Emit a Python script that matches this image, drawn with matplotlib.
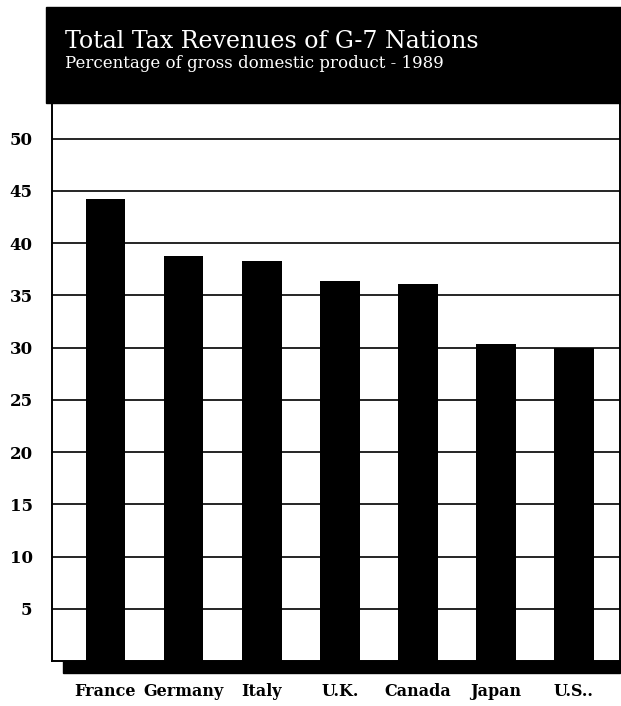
import matplotlib.pyplot as plt
from matplotlib.patches import Rectangle

# Total tax revenues, % of GDP, 1989
countries = ["France", "Germany", "Italy", "U.K.", "Canada", "Japan", "U.S.."]
revenue = [44.2, 38.8, 38.3, 36.4, 36.1, 30.3, 30.0]
yticks = [5, 10, 15, 20, 25, 30, 35, 40, 45, 50]

title = "Total Tax Revenues of G-7 Nations"
subtitle = "Percentage of gross domestic product - 1989"

W, H = 621, 706
fig = plt.figure(figsize=(W / 100, H / 100), dpi=100)
fig.patch.set_facecolor("white")

# plot area
ax = fig.add_axes([52 / W, 1 - 661 / H, (620 - 52) / W, (661 - 102) / H])
bar_w = 0.51
x = list(range(len(countries)))
ax.bar(x, revenue, width=bar_w, color="black", zorder=3)
ax.set_xlim(-0.685, 6.59)
ax.set_ylim(0, 53.5)

for y in yticks:
    ax.axhline(y, color="black", lw=1.2, zorder=1)

ax.set_yticks(yticks)
ax.set_yticklabels([str(v) for v in yticks], family="DejaVu Serif",
                   fontsize=12, fontweight="semibold")
ax.tick_params(axis="y", length=0, pad=14)
ax.set_xticks([])
for s in ["left", "right", "bottom", "top"]:
    ax.spines[s].set_color("black")
    ax.spines[s].set_linewidth(1.4)

# heavy base strip under the bars
ax.add_patch(Rectangle((0.02, -0.021), 0.98, 0.021, transform=ax.transAxes,
                       color="black", clip_on=False, zorder=4))

# country labels
for xi, name in zip(x, countries):
    ax.text(xi, -0.04, name, transform=ax.get_xaxis_transform(),
            ha="center", va="top", family="DejaVu Serif", fontweight="bold",
            fontsize=11.5)

# black header band
fig.patches.append(Rectangle((46 / W, 1 - 103 / H), 1 - 46 / W, 96 / H,
                             transform=fig.transFigure, color="black", zorder=0))
fig.text(65 / W, 1 - 48 / H, title, color="white", family="DejaVu Serif",
         fontsize=17.1, va="baseline", ha="left")
fig.text(65 / W, 1 - 68 / H, subtitle, color="white", family="DejaVu Serif",
         fontsize=12, va="baseline", ha="left")

plt.savefig("out.png", dpi=100)
plt.close()
